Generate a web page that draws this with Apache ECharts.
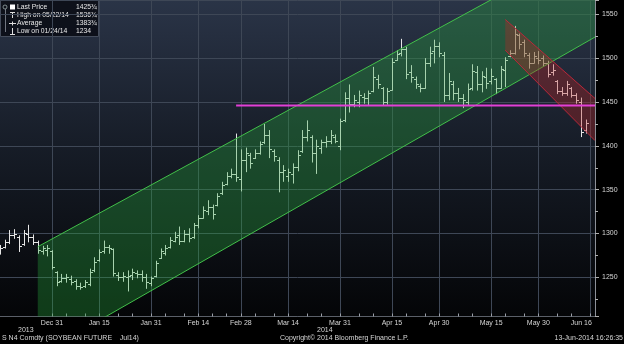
<!DOCTYPE html>
<html><head><meta charset="utf-8">
<script src="https://cdn.jsdelivr.net/npm/echarts/dist/echarts.min.js"></script>
<style>html,body{margin:0;padding:0;background:#000;}#c{width:624px;height:344px;}</style>
</head><body><div id="c"></div>
<script>
// ---------- data ----------
const firstDay = "2013-12-13", lastDay = "2014-06-17";
const holidays = ["2013-12-25","2014-01-01","2014-01-20","2014-02-17","2014-04-18","2014-05-26"];
const open  = [1282,1285,1290,1298,1296,1288,1300,1296,1290,1280,1281,1280,1256,1246,1249,1248,1246,1240,1240,1243,1258,1270,1280,1285,1282,1253,1250,1250,1253,1255,1254,1250,1244,1252,1272,1278,1285,1292,1298,1292,1300,1296,1310,1318,1326,1330,1332,1346,1356,1366,1368,1362,1384,1390,1386,1392,1404,1412,1394,1384,1370,1366,1368,1376,1394,1410,1410,1392,1398,1404,1405,1410,1400,1430,1455,1448,1450,1456,1454,1462,1476,1466,1450,1464,1498,1506,1510,1484,1476,1468,1466,1494,1508,1514,1504,1458,1470,1460,1455,1450,1466,1484,1470,1478,1474,1476,1466,1486,1502,1506,1526,1518,1504,1495,1500,1500,1494,1484,1474,1462,1460,1466,1458,1450,1418];
const high  = [1287,1293,1304,1305,1298,1304,1310,1299,1292,1286,1287,1281,1257,1254,1254,1252,1248,1244,1247,1260,1273,1282,1292,1287,1283,1256,1256,1258,1260,1258,1258,1254,1251,1269,1283,1287,1296,1302,1308,1304,1306,1312,1321,1331,1338,1333,1346,1359,1370,1374,1414,1396,1398,1392,1396,1405,1425,1418,1396,1387,1378,1374,1380,1395,1418,1429,1412,1407,1407,1411,1418,1413,1431,1461,1470,1458,1463,1460,1463,1490,1481,1467,1466,1500,1509,1522,1513,1492,1479,1471,1500,1513,1521,1518,1507,1483,1474,1466,1459,1471,1493,1491,1485,1489,1488,1477,1491,1501,1509,1536.75,1528,1521,1506,1507,1508,1503,1497,1493,1475,1467,1474,1467,1460,1455,1430];
const low   = [1276,1283,1288,1294,1279,1286,1290,1287,1277,1276,1274,1259,1240,1244,1244,1241,1236,1236,1238,1240,1256,1268,1277,1277,1251,1246,1245,1234,1247,1249,1245,1237,1240,1250,1271,1275,1283,1290,1287,1290,1290,1294,1306,1317,1321,1316,1331,1344,1355,1363,1359,1348,1370,1374,1385,1390,1402,1386,1382,1347,1359,1359,1357,1371,1392,1405,1381,1368,1391,1398,1402,1403,1395,1427,1438,1444,1444,1448,1446,1461,1465,1446,1447,1463,1497,1502,1476,1472,1465,1461,1465,1490,1494,1501,1450,1452,1452,1450,1443,1446,1463,1463,1461,1465,1470,1459,1465,1467,1501,1504,1510,1501,1488,1494,1493,1491,1478,1480,1459,1457,1457,1455,1448,1410,1414];
const close = [1284,1290,1298,1300,1286,1301,1296,1290,1281,1283,1284,1262,1245,1249,1250,1245,1240,1239,1245,1256,1268,1279,1285,1283,1255,1250,1252,1252,1256,1254,1250,1245,1249,1266,1280,1284,1293,1296,1292,1300,1295,1310,1318,1327,1330,1322,1343,1355,1366,1368,1365,1384,1392,1380,1392,1402,1412,1396,1388,1370,1372,1370,1376,1390,1410,1418,1392,1400,1404,1406,1412,1406,1428,1455,1448,1452,1458,1454,1460,1478,1470,1450,1462,1496,1505,1510,1482,1478,1470,1466,1494,1506,1514,1506,1458,1474,1460,1455,1452,1465,1485,1470,1480,1472,1480,1466,1488,1498,1506,1528,1516,1506,1494,1502,1498,1495,1482,1486,1462,1460,1470,1458,1452,1416,1425.75];

const yTicks = [1250,1300,1350,1400,1450,1500,1550];
const xLabelDates = ["2013-12-31","2014-01-15","2014-01-31","2014-02-14","2014-02-28","2014-03-14","2014-03-31","2014-04-15","2014-04-30","2014-05-15","2014-05-30","2014-06-16"];
const xLabelTexts = ["Dec 31","Jan 15","Jan 31","Feb 14","Feb 28","Mar 14","Mar 31","Apr 15","Apr 30","May 15","May 30","Jun 16"];
const yearLabels = ["2013","2014"];

// trend channels (date, upper, lower)
const greenChannel = {start:"2013-12-26", end:"2014-06-17", upperStart:1285, upperEnd:1631, lowerStart:1161, lowerEnd:1524};
const redChannel   = {start:"2014-05-20", end:"2014-06-17", upperStart:1544, upperEnd:1454, lowerStart:1509, lowerEnd:1406};
const hLine = {start:"2014-02-27", end:"2014-06-17", level:1446};

const lastPrice = 1425.75, lastPriceText = "1425¾";
const legendRows = [["Last Price","1425¾"],["High on 05/22/14","1536¾"],["Average","1383¾"],["Low on 01/24/14","1234"]];
const footerLeft = "S N4 Comdty (SOYBEAN FUTURE    Jul14)";
const footerMid = "Copyright© 2014 Bloomberg Finance L.P.";
const footerRight = "13-Jun-2014 16:26:35";

// ---------- build ----------
function tradingDays(a, b) {
  const out = []; let d = new Date(a + "T00:00:00Z"); const e = new Date(b + "T00:00:00Z");
  while (d <= e) {
    const s = d.toISOString().slice(0,10), w = d.getUTCDay();
    if (w !== 0 && w !== 6 && holidays.indexOf(s) < 0) out.push(s);
    d = new Date(d.getTime() + 86400000);
  }
  return out;
}
const dates = tradingDays(firstDay, lastDay);
const idx = d => dates.indexOf(d);
const labelIdx = xLabelDates.map(idx);
const minorIdx = [];
for (let k = 0; k < labelIdx.length - 1; k++) {
  const a = labelIdx[k], b = labelIdx[k+1];
  minorIdx.push(Math.round(a + (b-a)/3), Math.round(a + 2*(b-a)/3));
}
const bars = open.map((o,i) => [i, o, high[i], low[i], close[i]]);

const FONT = "'Liberation Sans', Arial, sans-serif";
const TXT = '#d6d6d6';

function channelSeries(ch, fill, stroke) {
  return {
    type: 'custom', clip: true, z: 4, silent: true,
    encode: {x: [0, 3], y: [1, 2, 4, 5]},
    data: [[idx(ch.start), ch.upperStart, ch.lowerStart, idx(ch.end), ch.upperEnd, ch.lowerEnd]],
    renderItem: function (params, api) {
      const u0 = api.coord([api.value(0), api.value(1)]);
      const l0 = api.coord([api.value(0), api.value(2)]);
      const u1 = api.coord([api.value(3), api.value(4)]);
      const l1 = api.coord([api.value(3), api.value(5)]);
      return {type: 'group', children: [
        {type: 'polygon', shape: {points: [u0, u1, l1, l0]}, style: {fill: fill}},
        {type: 'line', shape: {x1: u0[0], y1: u0[1], x2: u1[0], y2: u1[1]}, style: {stroke: stroke, lineWidth: 1}},
        {type: 'line', shape: {x1: l0[0], y1: l0[1], x2: l1[0], y2: l1[1]}, style: {stroke: stroke, lineWidth: 1}}
      ]};
    }
  };
}

const chart = echarts.init(document.getElementById('c'), null, {renderer: 'canvas'});
const legendChildren = [
  {type: 'rect', shape: {x: 2.5, y: 3.5, width: 98, height: 36}, style: {fill: 'rgba(10,13,20,0.88)', stroke: '#454d5c', lineWidth: 1}},
  {type: 'circle', shape: {cx: 7, cy: 10, r: 2}, style: {fill: 'none', stroke: '#9aa', lineWidth: 0.8}},
  {type: 'line', shape: {x1: 7.5, y1: 12, x2: 7.5, y2: 35}, style: {stroke: '#8a909a', lineWidth: 0.8}},
  {type: 'rect', shape: {x: 12, y: 7.5, width: 5, height: 5}, style: {fill: '#fff'}},
  {type: 'line', shape: {x1: 12, y1: 15.5, x2: 17, y2: 15.5}, style: {stroke: '#ddd', lineWidth: 1}},
  {type: 'line', shape: {x1: 14.5, y1: 15.5, x2: 14.5, y2: 21}, style: {stroke: '#ddd', lineWidth: 1}},
  {type: 'line', shape: {x1: 11, y1: 26.5, x2: 18, y2: 26.5}, style: {stroke: '#ddd', lineWidth: 1}},
  {type: 'line', shape: {x1: 14.5, y1: 24.5, x2: 14.5, y2: 28.5}, style: {stroke: '#ddd', lineWidth: 1}},
  {type: 'line', shape: {x1: 14.5, y1: 31, x2: 14.5, y2: 37}, style: {stroke: '#ddd', lineWidth: 1}},
  {type: 'line', shape: {x1: 12, y1: 37.5, x2: 17, y2: 37.5}, style: {stroke: '#ddd', lineWidth: 1}}
];
const rowY = [10, 18, 26.5, 34.5];
legendRows.forEach((r, k) => {
  legendChildren.push({type: 'text', style: {x: 19, y: rowY[k], text: r[0], fill: '#e8e8e8', font: '6.8px ' + FONT, verticalAlign: 'middle'}});
  legendChildren.push({type: 'text', style: {x: 78, y: rowY[k], text: r[1], fill: '#e8e8e8', font: '6.8px ' + FONT, verticalAlign: 'middle'}});
});

chart.setOption({
  backgroundColor: '#000',
  animation: false,
  textStyle: {fontFamily: FONT},
  grid: {left: 0, top: 0, width: 595, height: 316.5, show: true, borderWidth: 0,
    backgroundColor: new echarts.graphic.LinearGradient(0, 0, 0, 1, [
      {offset: 0, color: '#2a3447'}, {offset: 0.45, color: '#171d28'}, {offset: 1, color: '#040507'}])},
  xAxis: {
    type: 'category', data: dates, boundaryGap: false,
    axisLine: {show: true, lineStyle: {color: '#5a5f68', width: 1}},
    axisTick: {show: true, inside: true, length: 3, lineStyle: {color: '#9a9fa8'},
      interval: (i) => labelIdx.indexOf(i) >= 0 || minorIdx.indexOf(i) >= 0},
    axisLabel: {color: TXT, fontSize: 7, margin: 3,
      interval: (i) => labelIdx.indexOf(i) >= 0,
      formatter: (v) => {
        const k = xLabelDates.indexOf(v);
        if (k < 0) return '';
        return k === xLabelDates.length - 1 ? '{r|' + xLabelTexts[k] + '}' : xLabelTexts[k];
      },
      rich: {r: {color: TXT, fontSize: 7, padding: [0, 18, 0, 0]}}},
    splitLine: {show: true, interval: (i) => labelIdx.indexOf(i) >= 0, lineStyle: {color: '#3e4756', width: 1}}
  },
  yAxis: {
    type: 'value', position: 'right', min: 1205.45, max: 1566.25, splitNumber: 7,
    axisLine: {show: true, lineStyle: {color: '#8c9098', width: 1}},
    axisTick: {show: true, length: 4, lineStyle: {color: '#b0b0b0'}},
    minorTick: {show: true, splitNumber: 2, length: 3, lineStyle: {color: '#b0b0b0'}},
    axisLabel: {color: TXT, fontSize: 7, margin: 7, showMinLabel: false, showMaxLabel: false,
      formatter: (v) => yTicks.indexOf(v) >= 0 ? String(v) : ''},
    splitLine: {show: true, lineStyle: {color: '#3e4756', width: 1}}
  },
  series: [
    {
      type: 'custom', clip: true, z: 3, silent: true,
      encode: {x: 0, y: [1, 2, 3, 4]},
      data: bars,
      renderItem: function (params, api) {
        const i = api.value(0);
        const pH = api.coord([i, api.value(2)]);
        const pL = api.coord([i, api.value(3)]);
        const pO = api.coord([i, api.value(1)]);
        const pC = api.coord([i, api.value(4)]);
        const x = Math.round(pH[0]) + 0.5;
        const yo = Math.round(pO[1]) + 0.5, yc = Math.round(pC[1]) + 0.5;
        const st = {stroke: '#e6e6e6', lineWidth: 1};
        return {type: 'group', children: [
          {type: 'line', shape: {x1: x, y1: pH[1], x2: x, y2: pL[1]}, style: st},
          {type: 'line', shape: {x1: x - 2.5, y1: yo, x2: x, y2: yo}, style: st},
          {type: 'line', shape: {x1: x, y1: yc, x2: x + 2.5, y2: yc}, style: st}
        ]};
      }
    },
    channelSeries(greenChannel, 'rgba(40,170,60,0.33)', '#42c04a'),
    channelSeries(redChannel, 'rgba(190,35,35,0.33)', '#b8283a'),
    {
      type: 'line', z: 6, symbol: 'none', silent: true,
      data: [[hLine.start, hLine.level], [hLine.end, hLine.level]],
      lineStyle: {color: '#e23fd6', width: 2},
      markLine: {
        symbol: 'none', silent: true, animation: false,
        data: [{yAxis: lastPrice}],
        lineStyle: {opacity: 0},
        label: {position: 'end', distance: 4, formatter: lastPriceText, color: '#000', backgroundColor: '#f4f4f4',
          padding: [2, 2, 1, 2], fontSize: 7, borderRadius: 1}
      }
    }
  ],
  graphic: [
    {type: 'group', left: 0, top: 0, z: 100, children: legendChildren},
    {type: 'text', left: 18, top: 327, z: 100, style: {text: yearLabels[0], fill: TXT, font: '7px ' + FONT}},
    {type: 'text', left: 317, top: 327, z: 100, style: {text: yearLabels[1], fill: TXT, font: '7px ' + FONT}},
    {type: 'text', left: 2, top: 335, z: 100, style: {text: footerLeft, fill: TXT, font: '7px ' + FONT}},
    {type: 'text', left: 280, top: 335, z: 100, style: {text: footerMid, fill: TXT, font: '7px ' + FONT}},
    {type: 'text', right: 1, top: 335, z: 100, style: {text: footerRight, fill: TXT, font: '7px ' + FONT}}
  ]
});
</script></body></html>
